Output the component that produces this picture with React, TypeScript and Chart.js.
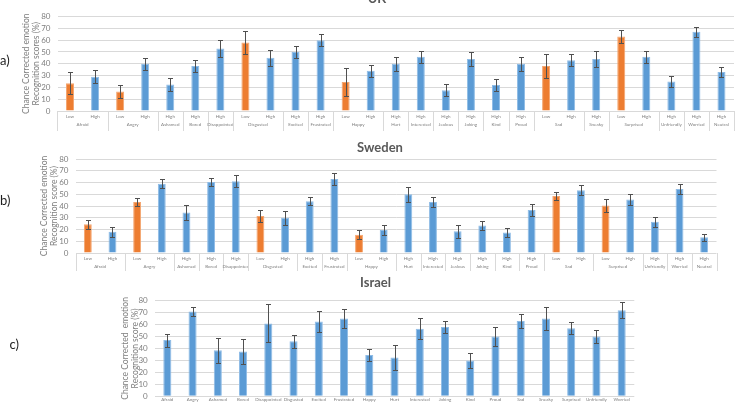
import { useEffect, useRef } from "react";
import { Chart, registerables } from "chart.js";

Chart.register(...registerables);

const FONT = "Lato, 'Open Sans', sans-serif";
const TITLE_GREY = "#595959";
const TEXT_GREY = "#7F7F7F";
const GRID_GREY = "#D9D9D9";
const BLUE = "#5B9BD5";
const BLUE_EDGE = "#8FBCE6";
const ORANGE = "#ED7D31";
const ORANGE_EDGE = "#F4A56F";
const ERR_COLOR = "#505050";

const yTicks = [0, 10, 20, 30, 40, 50, 60, 70, 80];

// ---- UK ----
const ukEmotions = [
  "Afraid", "Afraid", "Angry", "Angry", "Ashamed", "Bored", "Disappointed",
  "Disgusted", "Disgusted", "Excited", "Frustrated", "Happy", "Happy", "Hurt",
  "Interested", "Jealous", "Joking", "Kind", "Proud", "Sad", "Sad", "Sneaky",
  "Surprised", "Surprised", "Unfriendly", "Worried", "Neutral",
];
const ukLevels = [
  "Low", "High", "Low", "High", "High", "High", "High", "Low", "High", "High",
  "High", "Low", "High", "High", "High", "High", "High", "High", "High", "Low",
  "High", "High", "Low", "High", "High", "High", "High",
];
const ukScores = [
  23.5, 29, 16.5, 40, 22.5, 38, 53, 58, 45, 50, 60, 24.5, 34, 40, 46, 17.5, 44,
  22, 40, 38, 43, 44, 63, 46, 25, 67, 33,
];
const ukErrors = [
  9.5, 5.5, 5.5, 5, 5.5, 5, 7, 10, 6.5, 5, 5, 11.5, 5, 6, 5, 5, 6, 5, 6, 10, 5,
  6.5, 5.5, 5, 4.5, 4, 4,
];

// ---- Sweden ----
const seEmotions = [
  "Afraid", "Afraid", "Angry", "Angry", "Ashamed", "Bored", "Disappointed",
  "Disgusted", "Disgusted", "Excited", "Frustrated", "Happy", "Happy", "Hurt",
  "Interested", "Jealous", "Joking", "Kind", "Proud", "Sad", "Sad",
  "Surprised", "Surprised", "Unfriendly", "Worried", "Neutral",
];
const seLevels = [
  "Low", "High", "Low", "High", "High", "High", "High", "Low", "High", "High",
  "High", "Low", "High", "High", "High", "High", "High", "High", "High", "Low",
  "High", "Low", "High", "High", "High", "High",
];
const seScores = [
  24.5, 18, 43.5, 59, 34.5, 60.5, 61, 31.5, 30, 44, 63, 15.5, 19.5, 50, 43.5,
  18.5, 23.5, 17.5, 36.5, 48.5, 53.5, 40.5, 45.5, 26.5, 54.5, 13.5,
];
const seErrors = [
  4, 4, 3.5, 4, 6, 3.5, 5, 5.5, 6, 3.5, 5.5, 3.8, 4.5, 6.5, 4.5, 5.5, 4, 3.5,
  5.3, 3.3, 4, 5.5, 4.7, 4, 4, 3,
];

// ---- Israel ----
const ilEmotions = [
  "Afraid", "Angry", "Ashamed", "Bored", "Disappointed", "Disgusted", "Excited",
  "Frustrated", "Happy", "Hurt", "Interested", "Joking", "Kind", "Proud", "Sad",
  "Sneaky", "Surprised", "Unfriendly", "Worried",
];
const ilScores = [
  47, 71, 38.5, 37.5, 61, 46, 62.5, 65, 34.5, 32.5, 56.5, 58, 30, 50, 63, 65,
  57, 50, 72,
];
const ilErrors = [
  5.5, 4, 10.5, 10.5, 16, 5.5, 9, 8, 5.4, 10.5, 9, 5.3, 6.5, 8, 6, 9.5, 5, 5.3,
  6.5,
];

type PanelSpec = {
  key: string;
  top: number;
  height: number;
  title: string;
  titleX: number;
  titleY: number;
  letter: string;
  letterX: number;
  letterY: number;
  tickLabels: string[];
  groups: string[] | null;
  levels: string[] | null;
  scores: number[];
  errors: number[];
  padLeft: number;
  padRight: number;
  padTop: number;
  yWidth: number;
  xHeight: number;
  tickPad: number;
  yTitle: string[];
  groupOffset: number;
  sepLength: number;
};

const panels: PanelSpec[] = [
  {
    key: "uk", top: 0, height: 135,
    title: "UK", titleX: 377, titleY: -1.5,
    letter: "a)", letterX: 0, letterY: 61,
    tickLabels: ukLevels, groups: ukEmotions, levels: ukLevels,
    scores: ukScores, errors: ukErrors,
    padLeft: 20, padRight: 1, padTop: 16.5, yWidth: 37.5, xHeight: 24,
    tickPad: 3, yTitle: ["Chance Corrected emotion", "Recognition scores (%)"],
    groupOffset: 14, sepLength: 20,
  },
  {
    key: "se", top: 135, height: 137,
    title: "Sweden", titleX: 380, titleY: 12.5,
    letter: "b)", letterX: 0, letterY: 66,
    tickLabels: seLevels, groups: seEmotions, levels: seLevels,
    scores: seScores, errors: seErrors,
    padLeft: 38, padRight: 18.5, padTop: 24, yWidth: 37.5, xHeight: 19,
    tickPad: 3, yTitle: ["Chance Corrected emotion", "Recognition score (%)"],
    groupOffset: 13.7, sepLength: 18,
  },
  {
    key: "il", top: 272, height: 136,
    title: "Israel", titleX: 375.5, titleY: 11,
    letter: "c)", letterX: 9.5, letterY: 73,
    tickLabels: ilEmotions, groups: null, levels: null,
    scores: ilScores, errors: ilErrors,
    padLeft: 119, padRight: 100.7, padTop: 28.7, yWidth: 35.7, xHeight: 7,
    tickPad: 1, yTitle: ["Chance Corrected  emotion", "Recognition score (%)"],
    groupOffset: 0, sepLength: 0,
  },
];

function makeErrorBars(errors: number[]) {
  return {
    id: "errorBars",
    afterDatasetsDraw(chart: any) {
      const meta = chart.getDatasetMeta(0);
      const y = chart.scales.y;
      const values = chart.data.datasets[0].data as number[];
      const ctx = chart.ctx;
      ctx.save();
      ctx.strokeStyle = ERR_COLOR;
      ctx.lineWidth = 1;
      meta.data.forEach((bar: any, i: number) => {
        const v = values[i];
        const e = errors[i];
        const x = Math.round(bar.x) + 0.5;
        const yt = Math.round(y.getPixelForValue(v + e)) + 0.5;
        const yb = Math.round(y.getPixelForValue(v - e)) + 0.5;
        ctx.beginPath();
        ctx.moveTo(x, yt);
        ctx.lineTo(x, yb);
        ctx.moveTo(x - 2.5, yt);
        ctx.lineTo(x + 2.5, yt);
        ctx.moveTo(x - 2.5, yb);
        ctx.lineTo(x + 2.5, yb);
        ctx.stroke();
      });
      ctx.restore();
    },
  };
}

function makeGroupAxis(groups: string[] | null, offset: number, sepLength: number) {
  return {
    id: "groupAxis",
    afterDraw(chart: any) {
      if (!groups) return;
      const x = chart.scales.x;
      const area = chart.chartArea;
      const ctx = chart.ctx;
      const half = (x.getPixelForValue(1) - x.getPixelForValue(0)) / 2;
      ctx.save();
      ctx.strokeStyle = GRID_GREY;
      ctx.lineWidth = 1;
      ctx.fillStyle = TEXT_GREY;
      ctx.font = `4.5px ${FONT}`;
      ctx.textAlign = "center";
      ctx.textBaseline = "middle";
      let start = 0;
      const drawSep = (px: number) => {
        const sx = Math.round(px) + 0.5;
        ctx.beginPath();
        ctx.moveTo(sx, area.bottom);
        ctx.lineTo(sx, area.bottom + sepLength);
        ctx.stroke();
      };
      drawSep(x.getPixelForValue(0) - half);
      for (let i = 1; i <= groups.length; i++) {
        if (i === groups.length || groups[i] !== groups[start]) {
          const a = x.getPixelForValue(start);
          const b = x.getPixelForValue(i - 1);
          ctx.fillText(groups[start], (a + b) / 2, area.bottom + offset);
          drawSep(b + half);
          start = i;
        }
      }
      ctx.restore();
    },
  };
}

function makePanelText(spec: PanelSpec) {
  return {
    id: "panelText",
    afterDraw(chart: any) {
      const ctx = chart.ctx;
      ctx.save();
      ctx.fillStyle = TITLE_GREY;
      ctx.font = `bold 13px ${FONT}`;
      ctx.textAlign = "center";
      ctx.textBaseline = "middle";
      ctx.fillText(spec.title, spec.titleX, spec.titleY);
      ctx.fillStyle = "#1F1F1F";
      ctx.font = `13px ${FONT}`;
      ctx.textAlign = "left";
      ctx.fillText(spec.letter, spec.letterX, spec.letterY);
      ctx.restore();
    },
  };
}

function Panel({ spec }: { spec: PanelSpec }) {
  const ref = useRef<HTMLCanvasElement | null>(null);

  useEffect(() => {
    if (!ref.current) return;
    const fill = spec.scores.map((_, i) =>
      spec.levels && spec.levels[i] === "Low" ? ORANGE : BLUE
    );
    const edge = spec.scores.map((_, i) =>
      spec.levels && spec.levels[i] === "Low" ? ORANGE_EDGE : BLUE_EDGE
    );
    const chart = new Chart(ref.current, {
      type: "bar",
      data: {
        labels: spec.tickLabels,
        datasets: [
          {
            data: spec.scores,
            backgroundColor: fill,
            borderColor: edge,
            borderWidth: 1,
            barPercentage: 0.32,
            categoryPercentage: 1,
          },
        ],
      },
      options: {
        responsive: false,
        animation: false,
        devicePixelRatio: 1,
        layout: {
          padding: { left: spec.padLeft, right: spec.padRight, top: spec.padTop, bottom: 0 },
        },
        plugins: {
          legend: { display: false },
          tooltip: { enabled: false },
          title: { display: false },
        },
        scales: {
          x: {
            grid: { display: false, drawTicks: false },
            border: { display: false },
            ticks: {
              autoSkip: false,
              maxRotation: 0,
              minRotation: 0,
              padding: spec.tickPad,
              color: TEXT_GREY,
              font: { family: FONT, size: 4.5 },
            },
            afterFit: (s: any) => {
              s.height = spec.xHeight;
            },
          },
          y: {
            min: 0,
            max: 80,
            afterBuildTicks: (s: any) => {
              s.ticks = yTicks.map((v) => ({ value: v }));
            },
            ticks: {
              autoSkip: false,
              padding: 7,
              color: TEXT_GREY,
              font: { family: FONT, size: 8 },
            },
            grid: { color: GRID_GREY, drawTicks: false, lineWidth: 1 },
            border: { display: false },
            title: {
              display: true,
              text: spec.yTitle,
              color: TEXT_GREY,
              font: { family: FONT, size: 8.5, lineHeight: 1.1 },
              padding: { top: 2, bottom: 0 },
            },
            afterFit: (s: any) => {
              s.width = spec.yWidth;
            },
          },
        },
      },
      plugins: [
        makeErrorBars(spec.errors),
        makeGroupAxis(spec.groups, spec.groupOffset, spec.sepLength),
        makePanelText(spec),
      ],
    });
    return () => chart.destroy();
  }, [spec]);

  return (
    <canvas
      ref={ref}
      width={735}
      height={spec.height}
      style={{ position: "absolute", left: 0, top: spec.top, display: "block" }}
    />
  );
}

export default function App() {
  return (
    <div
      style={{
        position: "absolute",
        left: 0,
        top: 0,
        width: 735,
        height: 408,
        overflow: "hidden",
        background: "#FFFFFF",
      }}
    >
      {panels.map((p) => (
        <Panel key={p.key} spec={p} />
      ))}
    </div>
  );
}
